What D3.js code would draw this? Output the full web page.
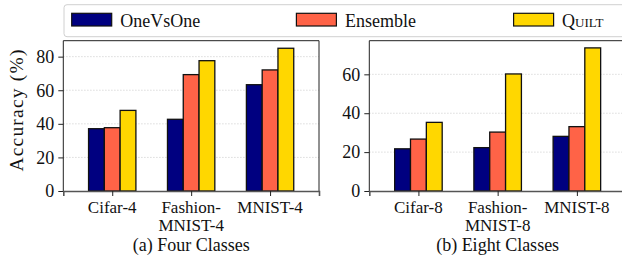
<!DOCTYPE html>
<html>
<head>
<meta charset="utf-8">
<script src="https://cdn.jsdelivr.net/npm/d3@7"></script>
<style>
  body { margin: 0; background: #fff; }
  svg { display: block; }
  svg text { font-family: "Liberation Serif", "DejaVu Serif", serif !important; fill: #111; }
</style>
</head>
<body>
<svg id="chart" width="622" height="265"></svg>
<script>
// ---- data ----
const seriesNames = ["OneVsOne", "Ensemble", "Quilt"];
const seriesColors = ["#000080", "#FF6347", "#FFD700"];

const categories4 = [["Cifar-4"], ["Fashion-", "MNIST-4"], ["MNIST-4"]];
const oneVsOne4 = [37.1, 42.7, 63.3];
const ensemble4 = [37.7, 69.3, 72.1];
const quilt4 = [48.0, 77.6, 85.0];
const yTicks4 = [0, 20, 40, 60, 80];

const categories8 = [["Cifar-8"], ["Fashion-", "MNIST-8"], ["MNIST-8"]];
const oneVsOne8 = [21.7, 22.3, 28.1];
const ensemble8 = [26.7, 30.3, 33.1];
const quilt8 = [35.3, 60.2, 73.6];
const yTicks8 = [0, 20, 40, 60];

const titles = ["(a) Four Classes", "(b) Eight Classes"];
const yLabel = "Accuracy (%)";

// ---- layout ----
(function () {
const svg = d3.select("#chart");
const plotTop = 40.7, plotBottom = 191;
const fs = 18;

const panels = [
  { left: 63.3, right: 319, cats: categories4, series: [oneVsOne4, ensemble4, quilt4], ymax: 89.5, ticks: yTicks4, title: titles[0] },
  { left: 369.3, right: 626, cats: categories8, series: [oneVsOne8, ensemble8, quilt8], ymax: 77.3, ticks: yTicks8, title: titles[1] }
];

panels.forEach(p => {
  const g = svg.append("g");
  const x = d3.scaleLinear().domain([-0.62, 2.62]).range([p.left, p.right]);
  const y = d3.scaleLinear().domain([0, p.ymax]).range([plotBottom, plotTop]);
  const bw = 0.2;

  // grid
  g.append("g").selectAll("line").data(p.ticks.filter(t => t > 0)).join("line")
    .attr("x1", p.left).attr("x2", p.right)
    .attr("y1", d => y(d)).attr("y2", d => y(d))
    .attr("stroke", "#c8c8c8").attr("stroke-width", 0.8).attr("stroke-dasharray", "1.2,1.8");

  // bars
  p.series.forEach((vals, j) => {
    g.append("g").selectAll("rect").data(vals).join("rect")
      .attr("x", (d, i) => x(i + (j - 1) * bw - bw / 2))
      .attr("width", x(bw) - x(0))
      .attr("y", d => y(d))
      .attr("height", d => y(0) - y(d))
      .attr("fill", seriesColors[j])
      .attr("stroke", "#111").attr("stroke-width", 1.3);
  });

  // frame
  g.append("path")
    .attr("d", `M${p.left},${plotBottom}V${plotTop}H${p.right}V${plotBottom}`)
    .attr("fill", "none").attr("stroke", "#222").attr("stroke-width", 1);

  // y axis
  const ya = g.append("g").attr("transform", `translate(${p.left},0)`)
    .call(d3.axisLeft(y).tickValues(p.ticks).tickSize(5).tickPadding(4).tickFormat(d3.format("d")));
  ya.attr("font-family", null);
  ya.select(".domain").remove();
  ya.selectAll("line").attr("stroke", "#222");
  ya.selectAll("text").attr("font-size", fs).attr("fill", "#111");

  // x axis
  const xa = g.append("g").attr("transform", `translate(0,${plotBottom})`)
    .call(d3.axisBottom(x).tickValues([0, 1, 2]).tickSize(5).tickFormat(""));
  xa.select(".domain").attr("stroke", "#555").attr("stroke-width", 1.6);
  xa.selectAll("line").attr("stroke", "#222");

  // x labels
  p.cats.forEach((lines, i) => {
    lines.forEach((ln, k) => {
      g.append("text").attr("x", x(i)).attr("y", 213 + k * 18.3)
        .attr("text-anchor", "middle").attr("font-size", 17).text(ln);
    });
  });

  // title
  g.append("text").attr("x", x(1)).attr("y", 251)
    .attr("text-anchor", "middle").attr("font-size", fs).text(p.title);
});

// y label
svg.append("text")
  .attr("transform", "translate(23,110) rotate(-90)")
  .attr("text-anchor", "middle").attr("font-size", 19.5)
  .attr("letter-spacing", 1.2).text(yLabel);

// legend
const lg = svg.append("g");
lg.append("rect").attr("x", 64).attr("y", 4.7).attr("width", 580).attr("height", 32)
  .attr("rx", 3).attr("fill", "#fff").attr("stroke", "#d0d0d0").attr("stroke-width", 1);
const legX = [71.7, 296.4, 513.6];
seriesNames.forEach((n, j) => {
  lg.append("rect").attr("x", legX[j]).attr("y", 13.3).attr("width", 40).attr("height", 12.7)
    .attr("fill", seriesColors[j]).attr("stroke", "#111").attr("stroke-width", 1.2);
  const t = lg.append("text").attr("x", legX[j] + 48.5).attr("y", 26.7).attr("font-size", fs).text(n);
  if (n === "Quilt") t.style("font-variant", "small-caps");
});
})();
</script>
</body>
</html>
